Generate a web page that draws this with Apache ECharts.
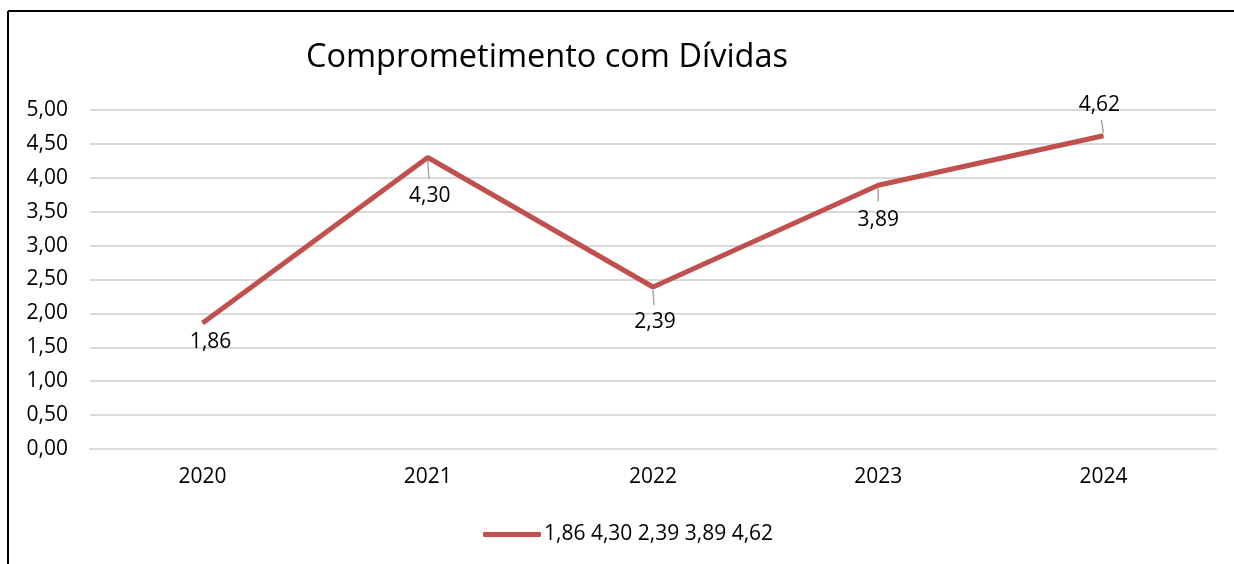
<!DOCTYPE html>
<html>
<head>
<meta charset="utf-8">
<script src="https://cdn.jsdelivr.net/npm/echarts@6/dist/echarts.min.js"></script>
<style>
  html, body { margin: 0; padding: 0; background: #fff; }
  #chart { width: 1234px; height: 564px; }
</style>
</head>
<body>
<div id="chart"></div>
<script>
const years = ['2020', '2021', '2022', '2023', '2024'];
const values = [1.86, 4.30, 2.39, 3.89, 4.62];
const seriesName = '1,86 4,30 2,39 3,89 4,62';

// label placement, Excel-style: side, distance, x nudge, leader length
const labelSide = ['bottom', 'bottom', 'bottom', 'bottom', 'top'];
const labelDist = [8, 28, 24, 24, 20];
const labelNudge = [8, 2, 2, 0, -4];
const leaderLen = [0, 18, 15, 13, 13];

const fmt = v => Number(v).toFixed(2).replace('.', ',');
const font = '"Open Sans", "Noto Sans", sans-serif';

const chart = echarts.init(document.getElementById('chart'));
chart.setOption({
    animation: false,
    textStyle: { fontFamily: font, color: '#000' },
    title: {
        text: 'Comprometimento com Dívidas',
        left: 542,
        top: 36,
        textAlign: 'center',
        textStyle: { fontSize: 32.5, fontWeight: 'normal', color: '#000', fontFamily: font }
    },
    legend: {
        left: 478,
        top: 519,
        itemWidth: 58,
        itemHeight: 5,
        itemGap: 6,
        icon: 'roundRect',
        textStyle: { fontSize: 21, color: '#000', fontFamily: font, padding: [0, 0, 0, -2] },
        data: [seriesName]
    },
    grid: { left: 90, right: 18, top: 110, bottom: 115 },
    xAxis: {
        type: 'category',
        data: years,
        axisLine: { lineStyle: { color: '#d9d9d9', width: 2 } },
        axisTick: { show: false },
        axisLabel: { fontSize: 21, color: '#000', margin: 18, fontFamily: font }
    },
    yAxis: {
        type: 'value',
        min: 0,
        max: 5,
        interval: 0.5,
        axisLine: { show: false },
        axisTick: { show: false },
        splitLine: { lineStyle: { color: '#d9d9d9', width: 2 } },
        axisLabel: { fontSize: 21, color: '#000', margin: 22, formatter: fmt, fontFamily: font }
    },
    series: [{
        name: 'leaders',
        type: 'custom',
        z: 1,
        silent: true,
        data: values.map((v, i) => [i, v]),
        renderItem: (params, api) => {
            const i = params.dataIndex;
            const len = leaderLen[i];
            if (!len) return null;
            const p = api.coord([api.value(0), api.value(1)]);
            const dir = labelSide[i] === 'top' ? -1 : 1;
            return {
                type: 'line',
                shape: { x1: p[0], y1: p[1] + dir * 3, x2: p[0] + labelNudge[i] * 0.5, y2: p[1] + dir * (3 + len) },
                style: { stroke: '#a6a6a6', lineWidth: 1.5 }
            };
        }
    }, {
        name: seriesName,
        type: 'line',
        z: 2,
        data: values.map((v, i) => ({
            value: v,
            label: { position: labelSide[i], distance: labelDist[i], offset: [labelNudge[i], 0] }
        })),
        color: '#C0504D',
        lineStyle: { width: 5, color: '#C0504D' },
        symbol: 'circle',
        symbolSize: 1,
        showSymbol: true,
        itemStyle: { color: '#C0504D' },
        label: {
            show: true,
            fontSize: 21,
            color: '#000',
            fontFamily: font,
            formatter: p => fmt(p.value)
        }
    }],
    graphic: [
        { type: 'line', shape: { x1: 8, y1: 11, x2: 1234, y2: 11 }, style: { stroke: '#000', lineWidth: 2 } },
        { type: 'line', shape: { x1: 8, y1: 11, x2: 8, y2: 564 }, style: { stroke: '#000', lineWidth: 2 } }
    ]
});
</script>
</body>
</html>
